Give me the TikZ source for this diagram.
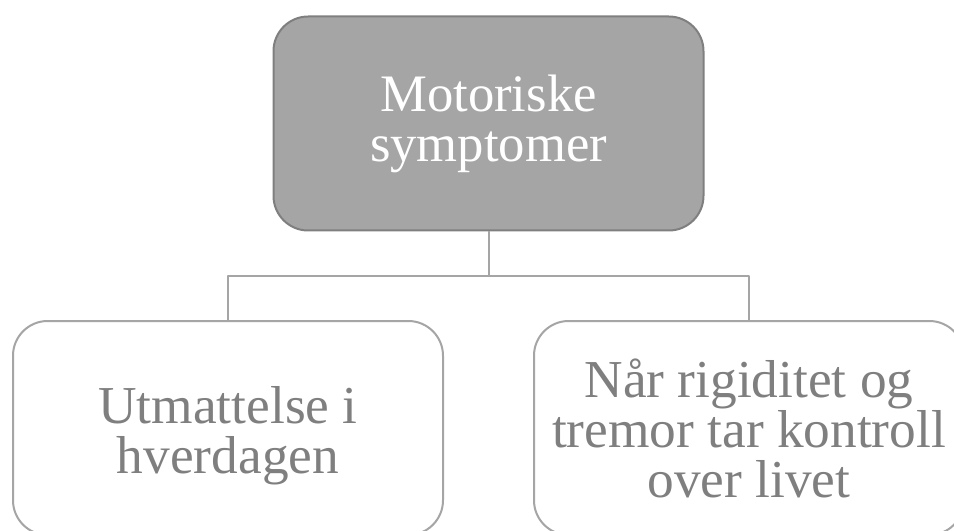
\documentclass[tikz,border=0pt]{standalone}
\usepackage{fontspec}
\setmainfont{Liberation Serif}
\usepackage{xcolor}
\usepackage{tikz}
\definecolor{boxfill}{HTML}{A5A5A5}
\definecolor{boxline}{HTML}{7F7F7F}
\definecolor{linkgray}{HTML}{A5A5A5}
\definecolor{textgray}{HTML}{7F7F7F}

\begin{document}
\begin{tikzpicture}[x=0.75pt,y=-0.75pt,line join=round,
  topbox/.style={draw=boxline,fill=boxfill,line width=1.5pt,rounded corners=26pt,
    minimum width=322.5pt,minimum height=160.5pt,align=center,text=white,
    font=\fontsize{39.5}{37.5}\selectfont},
  subbox/.style={draw=linkgray,fill=white,line width=1.5pt,rounded corners=26pt,
    minimum width=322.5pt,minimum height=160.5pt,align=center,text=textgray,
    font=\fontsize{40}{37.5}\selectfont},
  link/.style={draw=linkgray,line width=1.5pt}]
  \useasboundingbox (0,0) rectangle (954,531);
  \node[topbox] (motor) at (488.5,123.5) {Motoriske\\symptomer};
  \node[subbox] (utm) at (228,428) {\rule{0pt}{40pt}Utmattelse i\\hverdagen};
  \node[subbox] (naar) at (749,428) {Når rigiditet og\\tremor tar kontroll\\over livet};
  \coordinate (split) at (488.5,276);
  \draw[link] (motor.south) -- (split);
  \draw[link] (split) -| (utm.north);
  \draw[link] (split) -| (naar.north);
\end{tikzpicture}
\end{document}
